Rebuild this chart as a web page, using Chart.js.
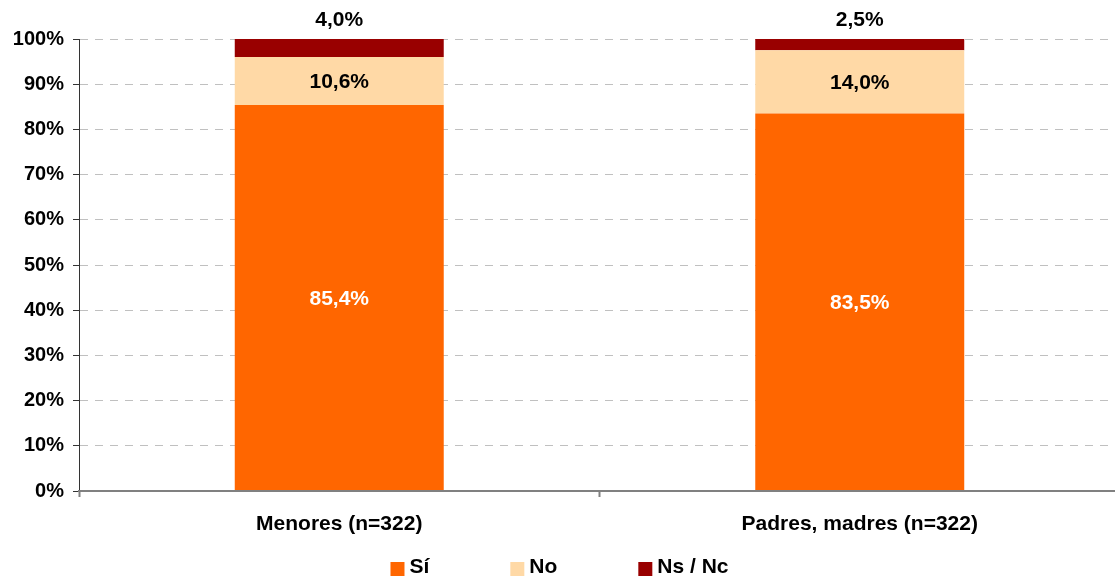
<!DOCTYPE html>
<html>
<head>
<meta charset="utf-8">
<script src="https://cdn.jsdelivr.net/npm/chart.js@4.4.1/dist/chart.umd.min.js"></script>
<style>
  html, body { margin: 0; padding: 0; background: #fff; overflow: hidden; }
  #wrap { width: 1120px; height: 578px; position: relative; }
</style>
</head>
<body>
<div id="wrap"><canvas id="myChart"></canvas></div>
<script>
const categories = ['Menores (n=322)', 'Padres, madres (n=322)'];
const seriesNames = ['Sí', 'No', 'Ns / Nc'];
const siValues = [85.4, 83.5];
const noValues = [10.6, 14.0];
const nsncValues = [4.0, 2.5];
const yTickLabels = ['0%', '10%', '20%', '30%', '40%', '50%', '60%', '70%', '80%', '90%', '100%'];
const seriesColors = ['#FF6600', '#FFD9A6', '#990000'];

const FONT = '"Liberation Sans", Arial, sans-serif';

const fmt = function (v) {
  return v.toFixed(1).replace('.', ',') + '%';
};

// value labels inside / above the segments
const segmentLabels = {
  id: 'segmentLabels',
  afterDatasetsDraw: function (chart) {
    const ctx = chart.ctx;
    ctx.save();
    ctx.font = 'bold 21px ' + FONT;
    ctx.textAlign = 'center';
    ctx.textBaseline = 'middle';
    chart.data.datasets.forEach(function (ds, di) {
      const meta = chart.getDatasetMeta(di);
      meta.data.forEach(function (bar, i) {
        let y = (bar.y + bar.base) / 2 + 1;
        if (di === 2) {
          y = bar.y - 19;
        }
        ctx.fillStyle = di === 0 ? '#FFFFFF' : '#000000';
        ctx.fillText(fmt(ds.data[i]), bar.x, y);
      });
    });
    ctx.restore();
  },
};

// legend row under the axis
const bottomLegend = {
  id: 'bottomLegend',
  afterDraw: function (chart) {
    const ctx = chart.ctx;
    const box = 14;
    const gap = 5;
    const spacing = 81;
    ctx.save();
    ctx.font = 'bold 21px ' + FONT;
    ctx.textBaseline = 'middle';
    ctx.textAlign = 'left';
    const items = chart.data.datasets.map(function (ds) {
      return {text: ds.label, color: ds.backgroundColor, w: ctx.measureText(ds.label).width};
    });
    let total = 0;
    items.forEach(function (it, i) {
      total += box + gap + it.w + (i < items.length - 1 ? spacing : 0);
    });
    let x = 559.5 - total / 2;
    const cy = 567;
    items.forEach(function (it) {
      ctx.fillStyle = it.color;
      ctx.fillRect(x, cy - 5, box, box);
      ctx.fillStyle = '#000000';
      ctx.fillText(it.text, x + box + gap, cy);
      x += box + gap + it.w + spacing;
    });
    ctx.restore();
  },
};

const app = {
  initChart: function () {
    const thisApp = this;

    Chart.defaults.font.family = FONT;
    Chart.defaults.font.size = 21;
    Chart.defaults.font.weight = 'bold';
    Chart.defaults.color = '#000000';

    thisApp.ctx = document.getElementById('myChart').getContext('2d');
    thisApp.chart = new Chart(thisApp.ctx, {
      type: 'bar',
      data: {
        labels: categories,
        datasets: [{
          label: seriesNames[0],
          backgroundColor: seriesColors[0],
          data: siValues,
        },
        {
          label: seriesNames[1],
          backgroundColor: seriesColors[1],
          data: noValues,
        },
        {
          label: seriesNames[2],
          backgroundColor: seriesColors[2],
          data: nsncValues,
        }
        ]
      },
      options: {
        responsive: true,
        maintainAspectRatio: false,
        animation: false,
        layout: {padding: {top: 39, right: 0, bottom: 0, left: 0}},
        datasets: {
          bar: {categoryPercentage: 1, barPercentage: 0.4015},
        },
        plugins: {
          legend: {display: false},
          tooltip: {enabled: false},
        },
        scales: {
          x: {
            stacked: true,
            afterFit: function (scale) { scale.height = 87; },
            grid: {
              offset: true,
              drawOnChartArea: false,
              tickLength: 6,
              tickColor: '#808080',
              tickWidth: 2,
            },
            border: {color: '#808080', width: 2, z: 1},
            ticks: {padding: 15, color: '#000000'},
          },
          y: {
            stacked: true,
            min: 0,
            max: 100,
            afterFit: function (scale) { scale.width = 79; },
            grid: {
              color: '#C0C0C0',
              lineWidth: 1,
              tickLength: 6,
              tickColor: '#333333',
              tickBorderDash: [],
            },
            border: {color: '#333333', width: 1, dash: [8, 7]},
            ticks: {
              stepSize: 10,
              padding: 9,
              color: '#000000',
              font: {size: 20},
              callback: function (value, index) { return yTickLabels[index]; },
            },
          },
        },
      },
      plugins: [segmentLabels, bottomLegend],
    });
  },
  init: function () {
    const thisApp = this;

    thisApp.initChart();
  },
};

app.init();
</script>
</body>
</html>
